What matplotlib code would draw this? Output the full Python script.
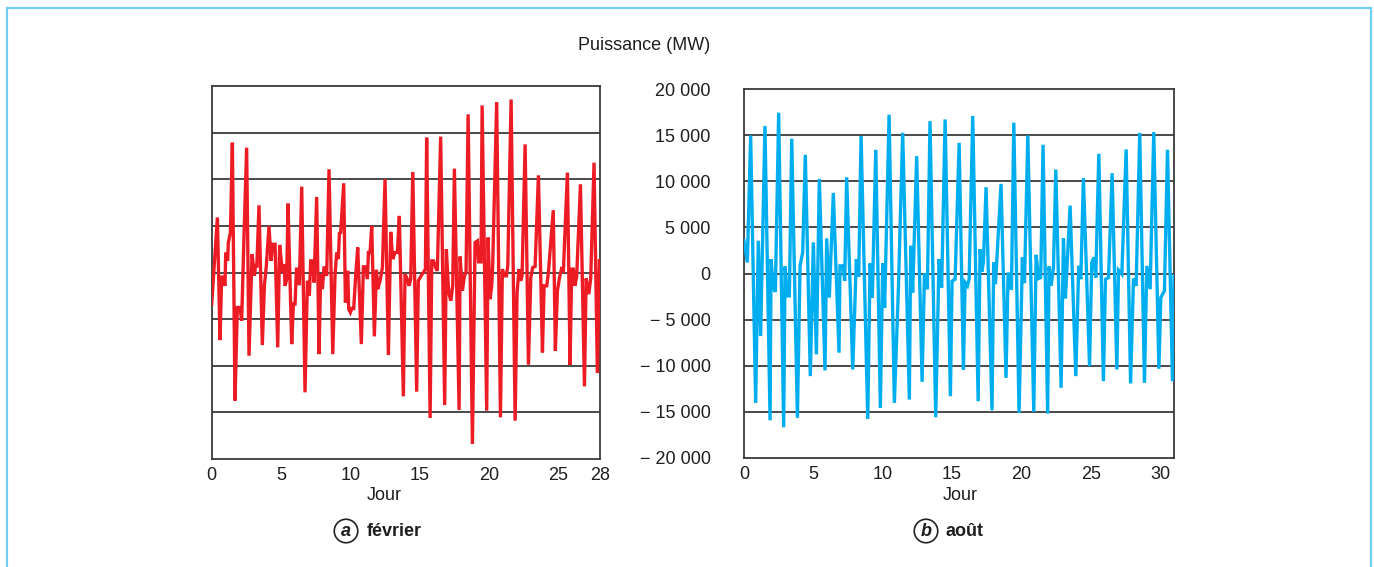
import matplotlib
matplotlib.use("Agg")
import matplotlib.pyplot as plt
from matplotlib.patches import Rectangle

plt.rcParams['font.family'] = ['Liberation Sans', 'DejaVu Sans']

# ---------------- data ----------------
# February: day of month, power (MW)
feb_day = [0.00, 0.41, 0.60, 0.72, 0.84, 0.96, 1.01, 1.15, 1.20, 1.35, 1.49, 1.68, 1.85, 2.04,
           2.16, 2.33, 2.52, 2.69, 2.91, 3.08, 3.17, 3.25, 3.41, 3.65, 3.80, 3.94, 4.13, 4.28,
           4.40, 4.57, 4.76, 4.90, 5.10, 5.22, 5.29, 5.41, 5.50, 5.77, 5.89, 6.01, 6.11, 6.25,
           6.32, 6.49, 6.73, 6.90, 7.04, 7.14, 7.28, 7.38, 7.57, 7.74, 7.86, 7.98, 8.10, 8.29,
           8.46, 8.73, 8.89, 9.01, 9.13, 9.21, 9.30, 9.52, 9.64, 9.81, 9.88, 10.00, 10.10, 10.24,
           10.38, 10.53, 10.79, 10.94, 11.11, 11.23, 11.30, 11.42, 11.54, 11.73, 11.88, 11.97,
           12.14, 12.31, 12.50, 12.74, 12.91, 13.05, 13.22, 13.39, 13.53, 13.82, 13.94, 14.11,
           14.23, 14.35, 14.50, 14.78, 14.90, 15.10, 15.26, 15.41, 15.50, 15.75, 15.87, 15.99,
           16.15, 16.27, 16.51, 16.80, 16.92, 17.09, 17.24, 17.38, 17.50, 17.84, 17.91, 18.08,
           18.22, 18.34, 18.49, 18.80, 18.99, 19.16, 19.25, 19.42, 19.50, 19.83, 19.93, 20.07,
           20.19, 20.26, 20.55, 20.82, 20.96, 21.11, 21.25, 21.35, 21.59, 21.88, 22.02, 22.16,
           22.28, 22.38, 22.60, 22.84, 23.01, 23.15, 23.32, 23.56, 23.85, 23.97, 24.16, 24.28,
           24.63, 24.78, 24.93, 25.07, 25.22, 25.36, 25.65, 25.84, 25.96, 26.08, 26.20, 26.32,
           26.59, 26.88, 27.00, 27.19, 27.33, 27.57, 27.81, 27.96, 28.00]
feb_mw = [-3400, 5900, -7250, -360, -710, -1430, 2140, 1250, 3210, 4280, 13920, -13740, -3750, -3750,
          -5180, 3930, 13390, -8930, 1960, -360, 890, 540, 7210, -7780, -1360, 710, 5000, 1250,
          3030, 3030, -8030, 2960, 0, 890, -1430, -710, 7390, -7680, -3390, -3390, 360, 360,
          -1360, 9210, -12850, -890, -2500, 1250, 1250, -1070, 8100, -8750, -180, -1790, 640, -360,
          11070, -8750, -360, 2140, 1430, 4210, 4280, 9570, -3210, 180, -3930, -4280, -3860, -3860,
          -360, 2680, -7680, 610, 610, -710, 2140, 2140, 5000, -6850, 290, -1790,
          -890, 540, 10000, -8850, 4360, 1430, 2140, 2140, 6070, -13280, -180, -710,
          -1430, -710, 10780, -12780, -890, -360, 0, 360, 14460, -15600, 1250, 1250,
          540, 180, 14570, -14210, 2500, -2140, -3030, -1430, 11140, -14740, 1710, -1960,
          -360, 0, 16960, -18390, 3210, 3390, 1140, 1140, 17920, -14820, 3750, -2860,
          -1430, 710, 18280, -15530, 360, -360, -360, 710, 18560, -15890, -2140, 360,
          -890, -360, 13740, -9890, -540, 540, 640, 10420, -8570, -1430, -1430, 0,
          6680, -8390, -1960, -640, 360, 180, 10710, -9920, 360, 360, -1430, -360,
          9460, -12210, -640, -2320, -640, 11780, -10780, 1430, 1070]

# August: day of month, power (MW)
aug_day = [0.00, 0.24, 0.48, 0.84, 1.03, 1.20, 1.51, 1.88, 1.95, 2.12, 2.26, 2.50, 2.86, 2.96,
           3.13, 3.27, 3.44, 3.85, 4.04, 4.23, 4.42, 4.78, 5.00, 5.22, 5.43, 5.84, 5.96, 6.15,
           6.44, 6.85, 6.92, 7.14, 7.26, 7.40, 7.84, 8.10, 8.27, 8.44, 8.92, 9.09, 9.25, 9.50,
           9.83, 10.00, 10.14, 10.46, 10.84, 11.13, 11.44, 11.92, 12.02, 12.16, 12.45, 12.84,
           13.01, 13.22, 13.41, 13.82, 14.06, 14.25, 14.50, 14.88, 15.00, 15.22, 15.51, 15.82,
           15.94, 16.11, 16.23, 16.49, 16.88, 17.02, 17.14, 17.26, 17.45, 17.88, 18.00, 18.13,
           18.53, 18.89, 19.04, 19.28, 19.45, 19.83, 20.07, 20.22, 20.46, 20.89, 21.06, 21.23,
           21.39, 21.56, 21.89, 21.99, 22.14, 22.31, 22.48, 22.86, 23.03, 23.17, 23.51, 23.92,
           24.13, 24.28, 24.47, 24.91, 25.07, 25.24, 25.36, 25.58, 25.91, 26.06, 26.28, 26.54,
           26.88, 27.00, 27.24, 27.55, 27.87, 28.08, 28.27, 28.53, 28.87, 29.04, 29.28, 29.54,
           29.91, 30.05, 30.31, 30.53, 30.89, 31.00]
aug_mw = [3560, 1200, 14990, -14050, 3560, -6790, 16010, -15940, 1560, -1520, -2000, 17460, -16700, 760,
          -2430, -2430, 14630, -15680, 830, 2290, 12890, -11140, 3380, -8780, 10270, -10530, 3810, -2610,
          8750, -8600, 830, 830, -800, 10450, -10420, 1560, -360, 14920, -15790, 1090, -2610, 13430,
          -14590, 1130, -3700, 17240, -14050, -1710, 15280, -13690, 3010, -2070, 12740, -11760,
          40, -1710, 16550, -15610, 1560, -1520, 16730, -13320, -830, -620, 14190, -10420,
          -980, -1340, -620, 17100, -13870, 2650, 180, 1200, 9370, -14850, 1200, -1160,
          9730, -11330, 110, -1780, 16370, -15140, 1740, -1050, 14990, -15030, 2030, -540,
          -440, 13980, -15210, 760, -1340, 650, 11290, -12410, 3810, -2720, 7370, -11140,
          830, -620, 10350, -10060, 1200, 1740, -440, 13000, -11690, -620, -440, 10890,
          -10420, 360, -70, 13470, -11940, -540, -1340, 15280, -11870, 830, -1710, 15350,
          -10350, -2610, -1890, 13430, -11690, -250]

y_ticks = [-20000, -15000, -10000, -5000, 0, 5000, 10000, 15000, 20000]
y_tick_labels = ['\u2212 20 000', '\u2212 15 000', '\u2212 10 000', '\u2212 5 000', '0',
                 '5 000', '10 000', '15 000', '20 000']
feb_xticks = [0, 5, 10, 15, 20, 25, 28]
aug_xticks = [0, 5, 10, 15, 20, 25, 30]

# ---------------- figure ----------------
W, H = 1374, 567
fig = plt.figure(figsize=(W / 100, H / 100), dpi=100)
fig.patch.set_facecolor('white')

# outer light-blue frame
fig.patches.append(Rectangle((7 / W, -0.2), (1371 - 7) / W, 1.2 - 7.5 / H,
                             transform=fig.transFigure, fill=False,
                             ec='#6DCFF2', lw=1.6, zorder=0))

grid_c = '#2b2b2b'
txt_c = '#1e1e1e'
FS = 13


def style(ax, xmax, xticks):
    ax.set_xlim(0, xmax)
    ax.set_ylim(-20000, 20000)
    ax.set_yticks(y_ticks)
    ax.set_xticks(xticks)
    ax.set_xticklabels([str(t) for t in xticks], fontsize=FS, color=txt_c)
    for y in y_ticks[1:-1]:
        ax.axhline(y, color=grid_c, lw=1.2, zorder=1)
    for s in ax.spines.values():
        s.set_color('#3a3a3a')
        s.set_linewidth(1.3)
    ax.tick_params(axis='both', length=0)
    ax.tick_params(axis='x', pad=6)


ax1 = fig.add_axes([211.7 / W, 1 - 459 / H, 388.3 / W, 373 / H])
style(ax1, 28, feb_xticks)
ax1.set_yticklabels([])
ax1.plot(feb_day, feb_mw, color='#ED1C24', lw=2.4, zorder=3, solid_joinstyle='miter')

ax2 = fig.add_axes([744 / W, 1 - 457.7 / H, 430 / W, 368.4 / H])
style(ax2, 31, aug_xticks)
ax2.set_yticklabels(y_tick_labels, fontsize=FS, color=txt_c)
ax2.tick_params(axis='y', pad=24)
ax2.plot(aug_day, aug_mw, color='#00AEEF', lw=2.4, zorder=3, solid_joinstyle='miter')

# texts
fig.text(644 / W, 1 - 45 / H, 'Puissance (MW)', ha='center', va='center', fontsize=FS, color=txt_c)
fig.text(384 / W, 1 - 495 / H, 'Jour', ha='center', va='center', fontsize=FS, color=txt_c)
fig.text(960 / W, 1 - 495 / H, 'Jour', ha='center', va='center', fontsize=FS, color=txt_c)

circ = dict(boxstyle='circle,pad=0.18', fc='white', ec='#222222', lw=1.2)
fig.text(346 / W, 1 - 531 / H, 'a', ha='center', va='center', fontsize=FS,
         fontweight='bold', fontstyle='italic', bbox=circ, color=txt_c)
fig.text(367 / W, 1 - 532 / H, 'février', ha='left', va='center', fontsize=FS,
         fontweight='bold', color=txt_c)
fig.text(926 / W, 1 - 531 / H, 'b', ha='center', va='center', fontsize=FS,
         fontweight='bold', fontstyle='italic', bbox=circ, color=txt_c)
fig.text(946 / W, 1 - 532 / H, 'août', ha='left', va='center', fontsize=FS,
         fontweight='bold', color=txt_c)

fig.savefig('out.png', dpi=100)
